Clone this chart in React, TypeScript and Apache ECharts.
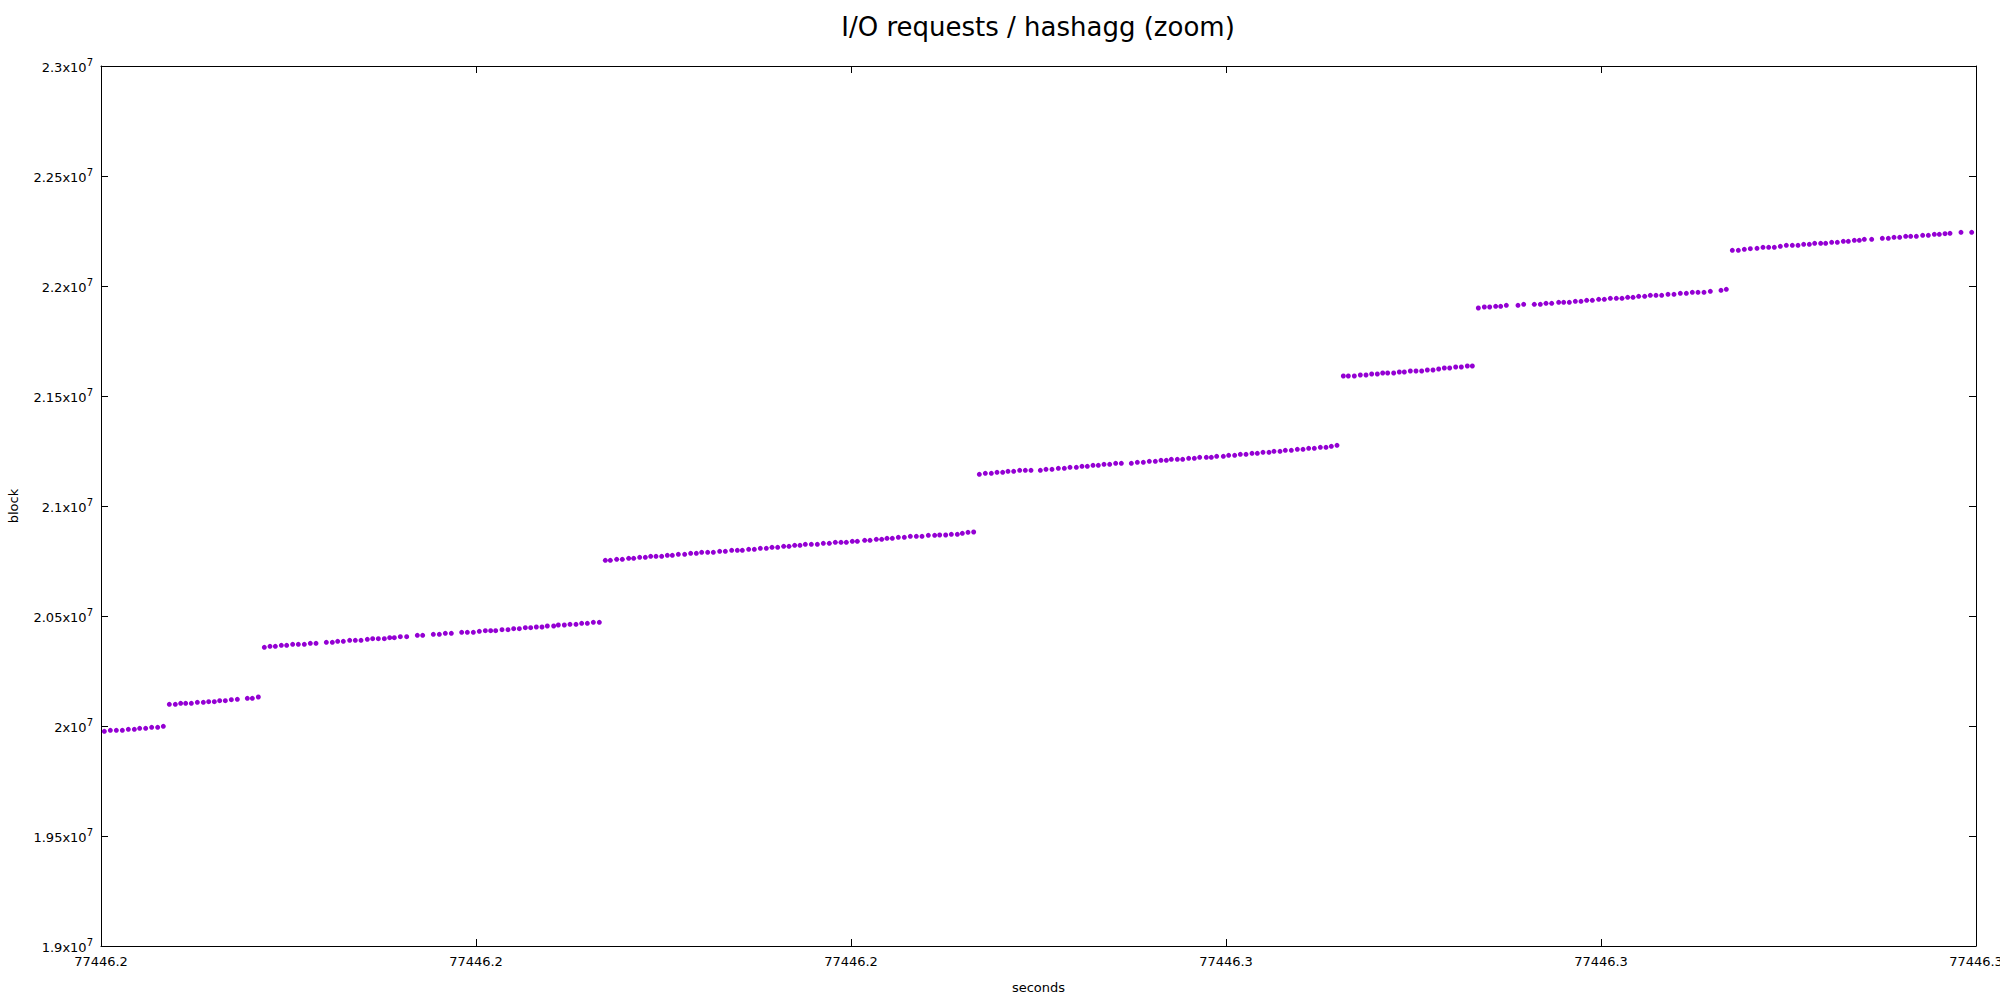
import React, { useEffect, useRef } from "react";
import * as echarts from "echarts";

// ---- data ----
const TITLE = "I/O requests / hashagg (zoom)";
const X_NAME = "seconds";
const Y_NAME = "block";
const BASE_SECONDS = 77446.2; // request times are stored as ms after this instant

const X_MIN = 77446.2;
const X_MAX = 77446.3;
const X_STEP = 0.02;
const Y_MIN = 19000000;
const Y_MAX = 23000000;
const Y_STEP = 500000;

// time offsets (ms after BASE_SECONDS) of each sequential run of requests
const run1Ms = [0.178, 0.498, 0.818, 1.138, 1.458, 1.778, 2.062, 2.382, 2.702, 3.022, 3.324];
const run1Blocks = [19975800, 19980300, 19980300, 19980300, 19984800, 19984800, 19989400, 19989400, 19993900, 19993900, 19998500];

const run2Ms = [3.644, 3.964, 4.249, 4.516, 4.818, 5.138, 5.458, 5.742, 6.044, 6.329, 6.631, 6.951, 7.271, 7.804, 8.071, 8.391];
const run2Blocks = [20098500, 20098500, 20103000, 20103000, 20103000, 20107600, 20107600, 20110600, 20110600, 20115200, 20115200, 20119700, 20121200, 20125800, 20125800, 20131800];

const run3Ms = [
  8.711, 9.013, 9.298, 9.618, 9.902, 10.222, 10.524, 10.844, 11.164, 11.467,
  12.018, 12.338, 12.622, 12.924, 13.262, 13.564, 13.867, 14.204, 14.489, 14.791, 15.111, 15.396, 15.644, 15.964, 16.302,
  16.871, 17.156,
  17.724, 18.044, 18.364, 18.684,
  19.236, 19.538, 19.858, 20.178, 20.498, 20.782, 21.049, 21.387, 21.707, 22.009, 22.311, 22.631, 22.916, 23.218, 23.52,
  23.804, 24.142, 24.391, 24.711, 25.013, 25.333, 25.636, 25.938, 26.258, 26.578,
];
const run3Blocks = [
  20357600, 20362100, 20362100, 20366700, 20366700, 20371200, 20371200, 20371200, 20375800, 20375800,
  20380300, 20380300, 20384800, 20384800, 20389400, 20389400, 20389400, 20393900, 20397000, 20397000, 20397000, 20401500, 20401500, 20406100, 20406100,
  20412100, 20412100,
  20416700, 20416700, 20421200, 20421200,
  20425800, 20425800, 20425800, 20430300, 20433300, 20433300, 20433300, 20437900, 20437900, 20442400, 20442400, 20447000, 20447000, 20450000, 20450000,
  20454500, 20454500, 20459100, 20459100, 20462100, 20462100, 20466700, 20466700, 20471200, 20471200,
];

const run4Ms = [
  26.898, 27.164, 27.502, 27.804, 28.142, 28.409, 28.729, 29.031, 29.316, 29.6, 29.902, 30.204, 30.471,
  30.791, 31.129, 31.449, 31.751, 32.036, 32.356, 32.658, 32.996, 33.298, 33.636, 33.938, 34.204, 34.542,
  34.844, 35.164, 35.484, 35.787, 36.089, 36.409, 36.693, 36.996, 37.28, 37.564, 37.884, 38.204, 38.524,
  38.844, 39.164, 39.467, 39.751, 40.071, 40.338, 40.729, 41.013, 41.351, 41.636, 41.92, 42.204, 42.524,
  42.844, 43.164, 43.484, 43.787, 44.124, 44.462, 44.729, 45.049, 45.351, 45.671, 45.938, 46.24, 46.542,
];
const run4Blocks = [
  20753000, 20753000, 20757600, 20757600, 20762100, 20762100, 20766700, 20766700, 20771200, 20771200, 20771200, 20775800, 20775800,
  20780300, 20780300, 20784800, 20784800, 20789400, 20789400, 20789400, 20793900, 20793900, 20798500, 20798500, 20798500, 20803000,
  20803000, 20807600, 20807600, 20812100, 20812100, 20816700, 20816700, 20821200, 20821200, 20825800, 20825800, 20825800, 20830300,
  20830300, 20834800, 20834800, 20834800, 20839400, 20839400, 20843900, 20843900, 20848500, 20848500, 20853000, 20853000, 20857600,
  20857600, 20862100, 20862100, 20862100, 20866700, 20866700, 20868200, 20868200, 20871200, 20871200, 20875800, 20880300, 20881800,
];

const run5Ms = [
  46.844, 47.164, 47.484, 47.787, 48.089, 48.373, 48.676, 48.996, 49.298, 49.6,
  50.098, 50.4, 50.72, 51.058, 51.378, 51.68, 52.018, 52.32, 52.604, 52.907, 53.191, 53.493, 53.796, 54.116, 54.418,
  54.951, 55.271, 55.591, 55.911, 56.231, 56.533, 56.818, 57.084, 57.404, 57.689, 58.009, 58.311, 58.596,
  58.951, 59.218, 59.502, 59.858, 60.142, 60.462, 60.764, 61.067, 61.387, 61.671, 61.973, 62.293, 62.56,
  62.88, 63.164, 63.484, 63.804, 64.107, 64.409, 64.711, 65.031, 65.333, 65.618, 65.92,
];
const run5Blocks = [
  21143900, 21148500, 21148500, 21153000, 21153000, 21157600, 21157600, 21162100, 21162100, 21162100,
  21162100, 21166700, 21166700, 21171200, 21171200, 21175800, 21175800, 21180300, 21180300, 21184800, 21184800, 21189400, 21189400, 21193900, 21193900,
  21193900, 21198500, 21198500, 21203000, 21203000, 21207600, 21207600, 21212100, 21212100, 21212100, 21216700, 21216700, 21221200,
  21221200, 21221200, 21225800, 21225800, 21230300, 21230300, 21234800, 21234800, 21239400, 21239400, 21243900, 21243900, 21248500,
  21248500, 21253000, 21253000, 21257600, 21257600, 21262100, 21262100, 21266700, 21266700, 21271200, 21275800,
];

const run6Ms = [
  66.258, 66.524, 66.844, 67.164, 67.467, 67.769, 68.071, 68.356, 68.622, 68.942, 69.244, 69.511,
  69.831, 70.133, 70.436, 70.738, 71.04, 71.342, 71.644, 71.929, 72.249, 72.551, 72.871, 73.138,
];
const run6Blocks = [
  21590900, 21590900, 21590900, 21595500, 21595500, 21600000, 21600000, 21604500, 21604500, 21604500, 21609100, 21609100,
  21613600, 21613600, 21613600, 21618200, 21618200, 21622700, 21627300, 21627300, 21631800, 21631800, 21636400, 21636400,
];

const run7Ms = [
  73.458, 73.778, 74.062, 74.382, 74.649, 74.951, 75.573, 75.876, 76.444, 76.764, 77.067, 77.369, 77.742, 78.009,
  78.311, 78.631, 78.933, 79.236, 79.538, 79.876, 80.178, 80.498, 80.818, 81.12, 81.422, 81.707, 82.009, 82.329,
  82.631, 82.933, 83.236, 83.573, 83.893, 84.231, 84.551, 84.871, 85.173, 85.493, 85.831, 86.4, 86.684,
];
const run7Blocks = [
  21900000, 21904500, 21904500, 21907600, 21907600, 21912100, 21912100, 21916700, 21916700, 21916700, 21921200, 21921200, 21925800, 21925800,
  21925800, 21930300, 21930300, 21934800, 21934800, 21939400, 21939400, 21943900, 21943900, 21943900, 21948500, 21948500, 21953000, 21953000,
  21957600, 21957600, 21957600, 21962100, 21962100, 21966700, 21966700, 21971200, 21971200, 21971200, 21975800, 21980300, 21984800,
];

const run8Ms = [
  87.004, 87.324, 87.644, 87.964, 88.32, 88.64, 88.942, 89.244, 89.564, 89.884, 90.204, 90.507, 90.809, 91.111,
  91.396, 91.716, 91.982, 92.302, 92.604, 92.924, 93.191, 93.511, 93.778, 94.044, 94.436, 95.004, 95.324, 95.627,
  95.929, 96.249, 96.516, 96.818, 97.156, 97.458, 97.778, 98.044, 98.347, 98.613, 99.2, 99.769,
];
const run8Blocks = [
  22162100, 22162100, 22166700, 22169700, 22171200, 22175800, 22175800, 22175800, 22180300, 22184800, 22184800, 22184800, 22189400, 22189400,
  22193900, 22193900, 22193900, 22198500, 22198500, 22203000, 22203000, 22207600, 22207600, 22212100, 22212100, 22216700, 22216700, 22221200,
  22221200, 22225800, 22225800, 22225800, 22230300, 22230300, 22234800, 22234800, 22237900, 22239400, 22243900, 22243900,
];

const runTimesMs = [run1Ms, run2Ms, run3Ms, run4Ms, run5Ms, run6Ms, run7Ms, run8Ms];
const runBlocks = [run1Blocks, run2Blocks, run3Blocks, run4Blocks, run5Blocks, run6Blocks, run7Blocks, run8Blocks];

// ---- styling ----
const FONT = "DejaVu Sans";
const POINT_COLOR = "#9400d3";

function buildPoints(): [number, number][] {
  const pts: [number, number][] = [];
  runTimesMs.forEach((times, i) => {
    const blocks = runBlocks[i];
    times.forEach((ms, j) => {
      pts.push([BASE_SECONDS + ms / 1000, blocks[j]]);
    });
  });
  return pts;
}

function yLabel(v: number): string {
  const m = parseFloat((v / 1e7).toFixed(3)).toString();
  return `{m|${m}x10}{e|7}`;
}

export default function App() {
  const ref = useRef<HTMLDivElement>(null);

  useEffect(() => {
    document.body.style.margin = "0";
    if (!ref.current) return;
    const chart = echarts.init(ref.current, null, { renderer: "svg" });

    const axisLine = { show: true, lineStyle: { color: "#000", width: 1 } };
    const tick = { show: true, inside: true, length: 7, lineStyle: { color: "#000", width: 1 } };

    const option: any = {
      animation: false,
      backgroundColor: "#ffffff",
      textStyle: { fontFamily: FONT },
      title: {
        text: TITLE,
        left: 1038,
        top: 14,
        padding: 0,
        textAlign: "center",
        textStyle: { fontFamily: FONT, fontSize: 26, fontWeight: "normal", color: "#000" },
      },
      grid: {
        left: 101,
        right: 24,
        top: 66,
        bottom: 54,
        containLabel: false,
        outerBoundsMode: "none",
        show: false,
      },
      xAxis: [
        {
          type: "value",
          position: "bottom",
          min: X_MIN,
          max: X_MAX,
          interval: X_STEP,
          name: X_NAME,
          nameLocation: "middle",
          nameGap: 35,
          nameTextStyle: { fontFamily: FONT, fontSize: 13, color: "#000" },
          axisLine,
          axisTick: tick,
          splitLine: { show: false },
          axisLabel: {
            show: true,
            margin: 9,
            fontFamily: FONT,
            fontSize: 13,
            color: "#000",
            showMinLabel: true,
            showMaxLabel: true,
            hideOverlap: false,
            formatter: (v: number) => v.toFixed(1),
          },
        },
        {
          type: "value",
          position: "top",
          min: X_MIN,
          max: X_MAX,
          interval: X_STEP,
          axisLine,
          axisTick: tick,
          splitLine: { show: false },
          axisLabel: { show: false },
        },
      ],
      yAxis: [
        {
          type: "value",
          position: "left",
          min: Y_MIN,
          max: Y_MAX,
          interval: Y_STEP,
          name: Y_NAME,
          nameLocation: "middle",
          nameGap: 81,
          nameTextStyle: { fontFamily: FONT, fontSize: 13, color: "#000" },
          axisLine,
          axisTick: tick,
          splitLine: { show: false },
          axisLabel: {
            show: true,
            margin: 8,
            color: "#000",
            formatter: yLabel,
            rich: {
              m: { fontFamily: FONT, fontSize: 13, color: "#000", lineHeight: 16, verticalAlign: "bottom" },
              e: { fontFamily: FONT, fontSize: 10, color: "#000", lineHeight: 10, verticalAlign: "bottom", padding: [0, 0, 7, 0] },
            },
          },
        },
        {
          type: "value",
          position: "right",
          min: Y_MIN,
          max: Y_MAX,
          interval: Y_STEP,
          axisLine,
          axisTick: tick,
          splitLine: { show: false },
          axisLabel: { show: false },
        },
      ],
      series: [
        {
          type: "scatter",
          name: "requests",
          xAxisIndex: 0,
          yAxisIndex: 0,
          symbol: "circle",
          symbolSize: 5,
          itemStyle: { color: POINT_COLOR, opacity: 1 },
          data: buildPoints(),
        },
      ],
    };

    chart.setOption(option);
    return () => chart.dispose();
  }, []);

  return <div ref={ref} style={{ width: 2000, height: 1000 }} />;
}
